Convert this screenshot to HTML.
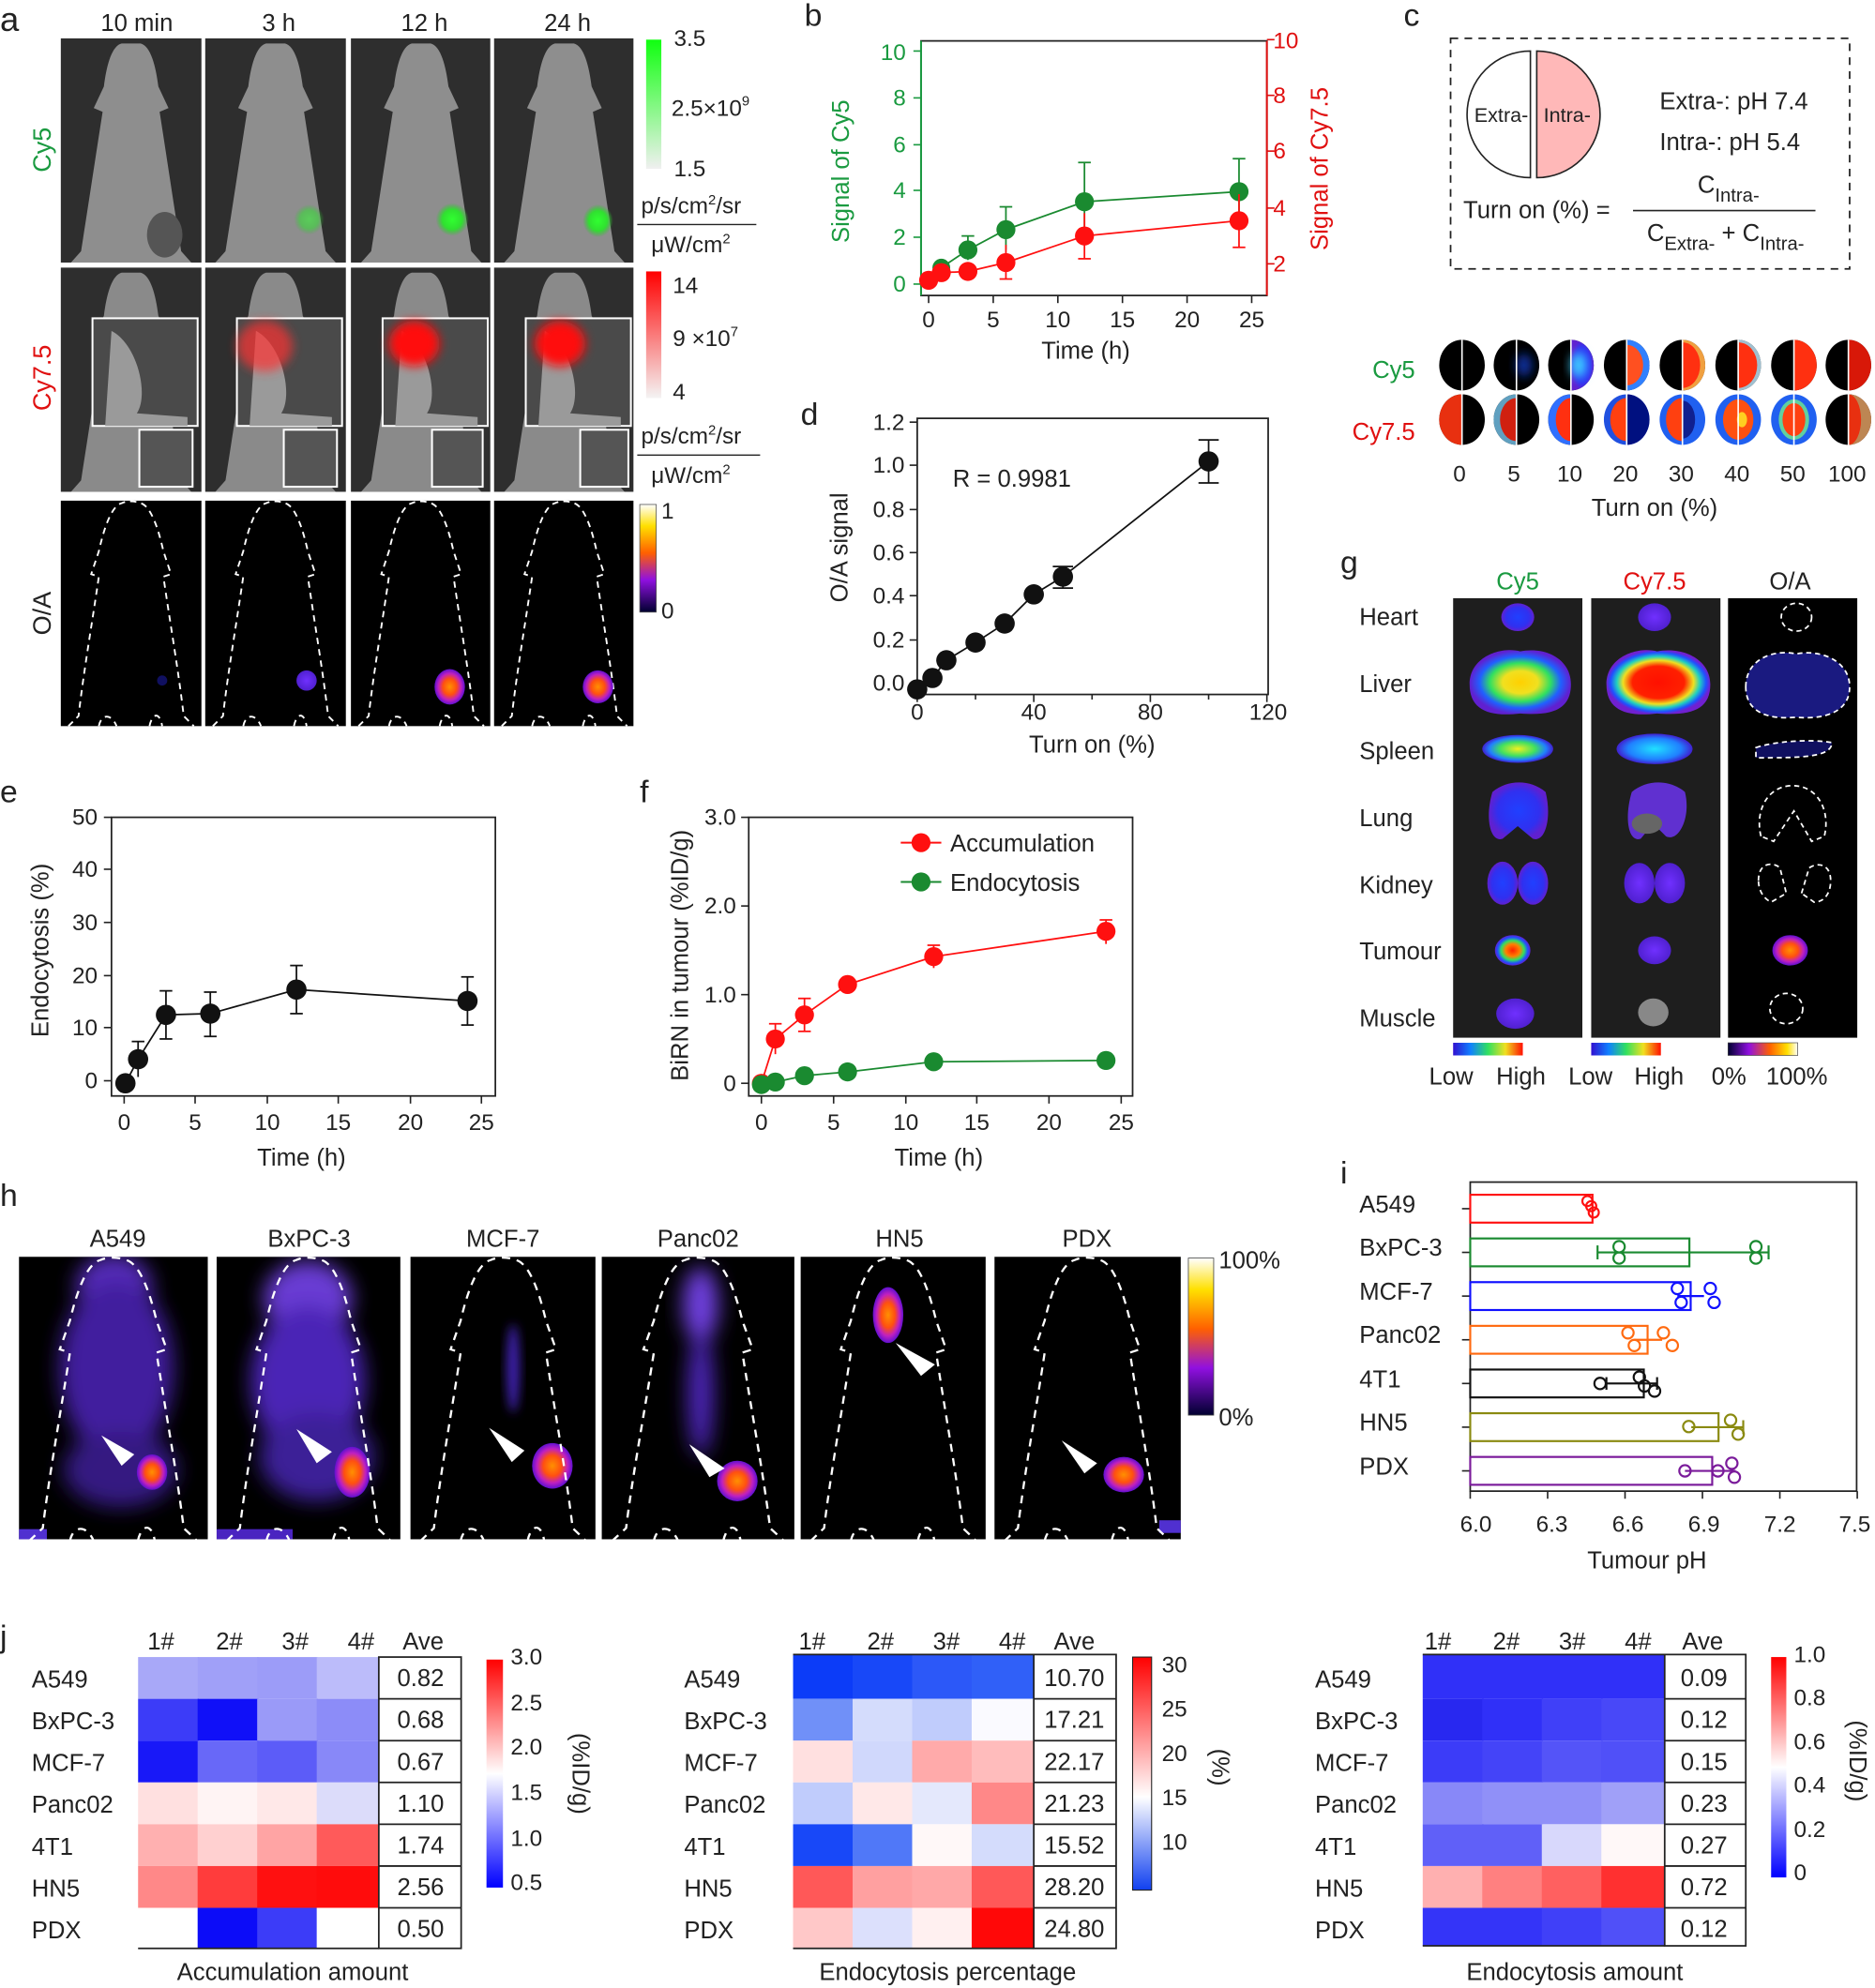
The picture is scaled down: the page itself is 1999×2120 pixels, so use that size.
<!DOCTYPE html>
<html><head><meta charset="utf-8"><style>
html,body{margin:0;padding:0;background:#fff}
svg{display:block}
text{font-family:"Liberation Sans",Arial,sans-serif;fill:#222}
</style></head><body>
<svg width="1999" height="2120" viewBox="0 0 1480 1569" xmlns="http://www.w3.org/2000/svg">
<defs>
<filter id="bl" x="-50%" y="-50%" width="200%" height="200%"><feGaussianBlur stdDeviation="4"/></filter>
<filter id="bl2" x="-50%" y="-50%" width="200%" height="200%"><feGaussianBlur stdDeviation="8"/></filter>
<clipPath id="cA"><rect x="15" y="992" width="149" height="223"/></clipPath>
<clipPath id="cB"><rect x="171" y="992" width="145" height="223"/></clipPath>
<clipPath id="cP"><rect x="475" y="992" width="152" height="223"/></clipPath>
<radialGradient id="jet"><stop offset="0" stop-color="#ffd000"/><stop offset="0.35" stop-color="#f0e020"/><stop offset="0.6" stop-color="#30e060"/><stop offset="0.8" stop-color="#2060ff"/><stop offset="1" stop-color="#6020d0"/></radialGradient>
<radialGradient id="jetR"><stop offset="0" stop-color="#ff1000"/><stop offset="0.5" stop-color="#ff2000"/><stop offset="0.68" stop-color="#f0e020"/><stop offset="0.8" stop-color="#20d0c0"/><stop offset="0.92" stop-color="#2050ff"/><stop offset="1" stop-color="#7020d0"/></radialGradient>
<radialGradient id="blueB"><stop offset="0" stop-color="#2040ff"/><stop offset="0.7" stop-color="#3030f0"/><stop offset="1" stop-color="#6020d0"/></radialGradient>
<radialGradient id="violet"><stop offset="0" stop-color="#7030ff"/><stop offset="1" stop-color="#5020d0"/></radialGradient>
<radialGradient id="spleen"><stop offset="0" stop-color="#f0f020"/><stop offset="0.5" stop-color="#40e060"/><stop offset="0.8" stop-color="#2080ff"/><stop offset="1" stop-color="#4020d0"/></radialGradient>
<radialGradient id="spleen2"><stop offset="0" stop-color="#20e0ff"/><stop offset="0.7" stop-color="#2080ff"/><stop offset="1" stop-color="#4020d0"/></radialGradient>
<radialGradient id="tum"><stop offset="0" stop-color="#ff2000"/><stop offset="0.4" stop-color="#ff8000"/><stop offset="0.65" stop-color="#30e060"/><stop offset="0.85" stop-color="#2050ff"/><stop offset="1" stop-color="#6020d0"/></radialGradient>
<radialGradient id="fire"><stop offset="0" stop-color="#ff9000"/><stop offset="0.45" stop-color="#ff5010"/><stop offset="0.75" stop-color="#c020c0"/><stop offset="1" stop-color="#6010d0"/></radialGradient>
<radialGradient id="grn"><stop offset="0" stop-color="#30ff30"/><stop offset="0.6" stop-color="#30e030"/><stop offset="1" stop-color="#30c030" stop-opacity="0"/></radialGradient>
<linearGradient id="gbar" x1="0" y1="0" x2="0" y2="1"><stop offset="0" stop-color="#10ff10"/><stop offset="1" stop-color="#f0f0f0"/></linearGradient>
<linearGradient id="rbar" x1="0" y1="0" x2="0" y2="1"><stop offset="0" stop-color="#ff0000"/><stop offset="1" stop-color="#f4f4f4"/></linearGradient>
<linearGradient id="fbar" x1="0" y1="0" x2="0" y2="1"><stop offset="0" stop-color="#ffffff"/><stop offset="0.2" stop-color="#ffe000"/><stop offset="0.45" stop-color="#ff6000"/><stop offset="0.7" stop-color="#9010e0"/><stop offset="1" stop-color="#000030"/></linearGradient>
<linearGradient id="fbarH" x1="0" y1="0" x2="1" y2="0"><stop offset="0" stop-color="#000030"/><stop offset="0.3" stop-color="#9010e0"/><stop offset="0.6" stop-color="#ff6000"/><stop offset="0.85" stop-color="#ffe000"/><stop offset="1" stop-color="#ffffff"/></linearGradient>
<linearGradient id="jbarH" x1="0" y1="0" x2="1" y2="0"><stop offset="0" stop-color="#3010d0"/><stop offset="0.25" stop-color="#1080ff"/><stop offset="0.5" stop-color="#30e060"/><stop offset="0.75" stop-color="#f0e020"/><stop offset="1" stop-color="#ff1000"/></linearGradient>
<linearGradient id="bwr" x1="0" y1="0" x2="0" y2="1"><stop offset="0" stop-color="#ff0000"/><stop offset="0.5" stop-color="#ffffff"/><stop offset="1" stop-color="#0000ff"/></linearGradient>
<linearGradient id="bwr2" x1="0" y1="0" x2="0" y2="1"><stop offset="0" stop-color="#ff0000"/><stop offset="0.6" stop-color="#ffffff"/><stop offset="1" stop-color="#1040f0"/></linearGradient>
<path id="mouse" d="M48,4 C40,6 36,22 34,38 L26,55 L33,58 C28,90 22,130 16,168 L8,177 L103,177 L95,168 C89,130 83,90 78,58 L85,55 L77,38 C75,22 71,6 63,4 Z"/>
<path id="mline" d="M6,178 L14,170 C18,135 25,95 30,60 L24,58 L30,40 C34,22 40,4 48,2 C52,0 58,0 63,2 C71,4 77,22 81,40 L87,58 L81,60 C86,95 93,135 97,170 L105,178 M30,178 C32,168 40,168 44,178 M70,178 C72,168 78,166 80,178"/>
</defs>

<!-- ===== Panel a ===== -->
<text x="0" y="24" font-size="27">a</text>
<text x="108" y="24" font-size="19" text-anchor="middle">10 min</text>
<text x="220" y="24" font-size="19" text-anchor="middle">3 h</text>
<text x="335" y="24" font-size="19" text-anchor="middle">12 h</text>
<text x="448" y="24" font-size="19" text-anchor="middle">24 h</text>
<text transform="translate(40,118) rotate(-90)" font-size="20" text-anchor="middle" style="fill:#1a9a40">Cy5</text>
<text transform="translate(40,298) rotate(-90)" font-size="20" text-anchor="middle" style="fill:#e01010">Cy7.5</text>
<text transform="translate(40,484) rotate(-90)" font-size="20" text-anchor="middle">O/A</text>

<g>
<g transform="translate(48,30)"><rect width="111" height="177" fill="#2e2e2e"/><use href="#mouse" fill="#8e8e8e"/><ellipse cx="82" cy="155" rx="14" ry="18" fill="#555"/></g>
<g transform="translate(162,30)"><rect width="111" height="177" fill="#2e2e2e"/><use href="#mouse" fill="#8e8e8e"/><ellipse cx="82" cy="143" rx="12" ry="12" fill="url(#grn)" opacity="0.55"/></g>
<g transform="translate(277,30)"><rect width="110" height="177" fill="#2e2e2e"/><use href="#mouse" fill="#8e8e8e"/><ellipse cx="80" cy="143" rx="13" ry="13" fill="url(#grn)"/></g>
<g transform="translate(390,30)"><rect width="110" height="177" fill="#2e2e2e"/><use href="#mouse" fill="#8e8e8e"/><ellipse cx="82" cy="144" rx="12" ry="13" fill="url(#grn)"/></g>
</g>
<g>
<g transform="translate(48,211)"><rect width="111" height="177" fill="#2e2e2e"/><use href="#mouse" fill="#8a8a8a"/><rect x="25" y="40" width="83" height="85" fill="#4a4a4a" stroke="#fff" stroke-width="1.5"/><path d="M40,50 C60,60 70,100 60,115 L100,118 L100,125 L35,125 Z" fill="#9a9a9a"/><rect x="62" y="128" width="42" height="45" fill="#555" stroke="#fff" stroke-width="1.5"/></g>
<g transform="translate(162,211)"><rect width="111" height="177" fill="#2e2e2e"/><use href="#mouse" fill="#8a8a8a"/><rect x="25" y="40" width="83" height="85" fill="#4a4a4a" stroke="#fff" stroke-width="1.5"/><path d="M40,50 C60,60 70,100 60,115 L100,118 L100,125 L35,125 Z" fill="#9a9a9a"/><ellipse cx="47" cy="62" rx="22" ry="20" fill="#ff3030" opacity="0.7" filter="url(#bl)"/><rect x="62" y="128" width="42" height="45" fill="#555" stroke="#fff" stroke-width="1.5"/></g>
<g transform="translate(277,211)"><rect width="110" height="177" fill="#2e2e2e"/><use href="#mouse" fill="#8a8a8a"/><rect x="25" y="40" width="83" height="85" fill="#4a4a4a" stroke="#fff" stroke-width="1.5"/><path d="M40,50 C60,60 70,100 60,115 L100,118 L100,125 L35,125 Z" fill="#9a9a9a"/><ellipse cx="50" cy="60" rx="20" ry="18" fill="#ff0808" filter="url(#bl)"/><rect x="64" y="128" width="40" height="45" fill="#555" stroke="#fff" stroke-width="1.5"/></g>
<g transform="translate(390,211)"><rect width="110" height="177" fill="#2e2e2e"/><use href="#mouse" fill="#8a8a8a"/><rect x="25" y="40" width="83" height="85" fill="#4a4a4a" stroke="#fff" stroke-width="1.5"/><path d="M40,50 C60,60 70,100 60,115 L100,118 L100,125 L35,125 Z" fill="#9a9a9a"/><ellipse cx="52" cy="60" rx="20" ry="18" fill="#ff0808" filter="url(#bl)"/><rect x="68" y="128" width="38" height="45" fill="#555" stroke="#fff" stroke-width="1.5"/></g>
</g>
<g fill="none" stroke="#fff" stroke-width="1.4" stroke-dasharray="5,4">
<g transform="translate(48,395)"><rect width="111" height="178" fill="#000" stroke="none"/><use href="#mline"/><ellipse cx="80" cy="142" rx="4" ry="4" fill="#101060" stroke="none"/></g>
<g transform="translate(162,395)"><rect width="111" height="178" fill="#000" stroke="none"/><use href="#mline"/><ellipse cx="80" cy="142" rx="8" ry="8" fill="url(#violet)" stroke="none"/></g>
<g transform="translate(277,395)"><rect width="110" height="178" fill="#000" stroke="none"/><use href="#mline"/><ellipse cx="78" cy="147" rx="12" ry="14" fill="url(#fire)" stroke="none"/></g>
<g transform="translate(390,395)"><rect width="110" height="178" fill="#000" stroke="none"/><use href="#mline"/><ellipse cx="82" cy="147" rx="12" ry="13" fill="url(#fire)" stroke="none"/></g>
</g>
<rect x="510" y="31" width="12" height="102" fill="url(#gbar)"/>
<text x="532" y="36" font-size="18">3.5</text>
<text x="530" y="91" font-size="18">2.5×10<tspan font-size="11" dy="-8">9</tspan></text>
<text x="532" y="139" font-size="18">1.5</text>
<text x="506" y="168" font-size="18">p/s/cm<tspan font-size="11" dy="-7">2</tspan><tspan dy="7">/sr</tspan></text>
<line x1="503" y1="177" x2="597" y2="177" stroke="#222" stroke-width="1"/>
<text x="514" y="199" font-size="18">μW/cm<tspan font-size="11" dy="-7">2</tspan></text>
<rect x="510" y="214" width="12" height="100" fill="url(#rbar)"/>
<text x="531" y="231" font-size="18">14</text>
<text x="531" y="273" font-size="18">9 ×10<tspan font-size="11" dy="-8">7</tspan></text>
<text x="531" y="315" font-size="18">4</text>
<text x="506" y="350" font-size="18">p/s/cm<tspan font-size="11" dy="-7">2</tspan><tspan dy="7">/sr</tspan></text>
<line x1="503" y1="359" x2="600" y2="359" stroke="#222" stroke-width="1"/>
<text x="514" y="381" font-size="18">μW/cm<tspan font-size="11" dy="-7">2</tspan></text>
<rect x="505" y="398" width="13" height="85" fill="url(#fbar)" stroke="#555" stroke-width="0.6"/>
<text x="522" y="409" font-size="18">1</text>
<text x="522" y="488" font-size="18">0</text>

<!-- ===== Panel b ===== -->
<text x="635" y="20" font-size="25">b</text>
<rect x="727" y="32" width="273" height="201" fill="none" stroke="#222" stroke-width="1.3"/>
<line x1="727" y1="32" x2="727" y2="233" stroke="#1a9a40" stroke-width="1.5"/>
<line x1="1000" y1="32" x2="1000" y2="233" stroke="#e01010" stroke-width="1.5"/>
<g font-size="18" text-anchor="end">
<text x="715" y="230" style="fill:#1a9a40">0</text><text x="715" y="193" style="fill:#1a9a40">2</text><text x="715" y="156" style="fill:#1a9a40">4</text><text x="715" y="120" style="fill:#1a9a40">6</text><text x="715" y="83" style="fill:#1a9a40">8</text><text x="715" y="47" style="fill:#1a9a40">10</text>
</g>
<g stroke="#1a9a40" stroke-width="1.2"><line x1="721" y1="224" x2="727" y2="224"/><line x1="721" y1="187" x2="727" y2="187"/><line x1="721" y1="150" x2="727" y2="150"/><line x1="721" y1="114" x2="727" y2="114"/><line x1="721" y1="77" x2="727" y2="77"/><line x1="721" y1="40" x2="727" y2="40"/></g>
<g stroke="#e01010" stroke-width="1.2"><line x1="1000" y1="208" x2="1006" y2="208"/><line x1="1000" y1="164" x2="1006" y2="164"/><line x1="1000" y1="119" x2="1006" y2="119"/><line x1="1000" y1="75" x2="1006" y2="75"/><line x1="1000" y1="31" x2="1006" y2="31"/></g>
<g font-size="18"><text x="1005" y="214" style="fill:#e01010">2</text><text x="1005" y="170" style="fill:#e01010">4</text><text x="1005" y="125" style="fill:#e01010">6</text><text x="1005" y="81" style="fill:#e01010">8</text><text x="1005" y="38" style="fill:#e01010">10</text></g>
<g stroke="#222" stroke-width="1.2"><line x1="733" y1="233" x2="733" y2="239"/><line x1="784" y1="233" x2="784" y2="239"/><line x1="835" y1="233" x2="835" y2="239"/><line x1="886" y1="233" x2="886" y2="239"/><line x1="937" y1="233" x2="937" y2="239"/><line x1="988" y1="233" x2="988" y2="239"/></g>
<g font-size="18" text-anchor="middle"><text x="733" y="258">0</text><text x="784" y="258">5</text><text x="835" y="258">10</text><text x="886" y="258">15</text><text x="937" y="258">20</text><text x="988" y="258">25</text></g>
<text x="857" y="283" font-size="19" text-anchor="middle">Time (h)</text>
<text transform="translate(670,135) rotate(-90)" font-size="19" text-anchor="middle" style="fill:#1a9a40">Signal of Cy5</text>
<text transform="translate(1048,133) rotate(-90)" font-size="19" text-anchor="middle" style="fill:#e01010">Signal of Cy7.5</text>
<g stroke="#1a8a30" stroke-width="1.3" fill="none">
<polyline points="735,222 743,211 764,197 794,181 856,159 978,151"/>
<line x1="764" y1="186" x2="764" y2="205"/><line x1="794" y1="163" x2="794" y2="197"/><line x1="856" y1="128" x2="856" y2="185"/><line x1="978" y1="125" x2="978" y2="178"/>
<line x1="851" y1="128" x2="861" y2="128"/><line x1="973" y1="125" x2="983" y2="125"/><line x1="789" y1="163" x2="799" y2="163"/><line x1="759" y1="186" x2="769" y2="186"/>
</g>
<g fill="#1a8a30"><circle cx="743" cy="211" r="7"/><circle cx="764" cy="197" r="7.5"/><circle cx="794" cy="181" r="7.5"/><circle cx="856" cy="159" r="7.5"/><circle cx="978" cy="151" r="7.5"/></g>
<g stroke="#ff1010" stroke-width="1.3" fill="none">
<polyline points="733,221 743,215 764,214 794,207 856,186 978,174"/>
<line x1="794" y1="193" x2="794" y2="220"/><line x1="856" y1="168" x2="856" y2="204"/><line x1="978" y1="153" x2="978" y2="195"/>
<line x1="851" y1="204" x2="861" y2="204"/><line x1="973" y1="195" x2="983" y2="195"/><line x1="789" y1="220" x2="799" y2="220"/>
</g>
<g fill="#ff1010"><circle cx="733" cy="221" r="7.5"/><circle cx="743" cy="215" r="7.5"/><circle cx="764" cy="214" r="7.5"/><circle cx="794" cy="207" r="7.5"/><circle cx="856" cy="186" r="7.5"/><circle cx="978" cy="174" r="7.5"/></g>

<!-- ===== Panel c ===== -->
<text x="1108" y="20" font-size="25">c</text>
<rect x="1145" y="30" width="315" height="182" fill="none" stroke="#222" stroke-width="1.3" stroke-dasharray="6,5"/>
<path d="M1208,40 A50,50 0 0 0 1208,140 Z" fill="#fff" stroke="#222" stroke-width="1.2"/>
<path d="M1213,40 A50,50 0 0 1 1213,140 Z" fill="#ffb8b8" stroke="#222" stroke-width="1.2"/>
<text x="1185" y="96" font-size="16" text-anchor="middle">Extra-</text>
<text x="1237" y="96" font-size="16" text-anchor="middle">Intra-</text>
<text x="1310" y="86" font-size="19">Extra-: pH 7.4</text>
<text x="1310" y="118" font-size="19">Intra-: pH 5.4</text>
<text x="1155" y="172" font-size="19">Turn on (%) =</text>
<line x1="1289" y1="166" x2="1433" y2="166" stroke="#222" stroke-width="1.2"/>
<text x="1340" y="152" font-size="19">C<tspan font-size="15" dy="7">Intra-</tspan></text>
<text x="1300" y="190" font-size="19">C<tspan font-size="15" dy="7">Extra-</tspan><tspan dy="-7"> + C</tspan><tspan font-size="15" dy="7">Intra-</tspan></text>
<text x="1117" y="298" font-size="19" text-anchor="end" style="fill:#1a9a40">Cy5</text>
<text x="1117" y="347" font-size="19" text-anchor="end" style="fill:#e01010">Cy7.5</text>
<g>
<ellipse cx="1154" cy="288" rx="18" ry="20" fill="#000"/>
<ellipse cx="1197" cy="288" rx="18" ry="20" fill="#000"/><ellipse cx="1203" cy="288" rx="6" ry="9" fill="#1030a0" filter="url(#bl)"/>
<ellipse cx="1240" cy="288" rx="18" ry="20" fill="#000"/><path d="M1240,268 A18,20 0 0 1 1240,308 Z" fill="url(#blueB)"/><ellipse cx="1246" cy="288" rx="6" ry="10" fill="#40d0ff" filter="url(#bl)"/>
<ellipse cx="1284" cy="288" rx="18" ry="20" fill="#000"/><path d="M1284,268 A18,20 0 0 1 1284,308 Z" fill="#3080ff"/><path d="M1284,272 A13,16 0 0 1 1284,304 Z" fill="#ff5020"/>
<ellipse cx="1328" cy="288" rx="18" ry="20" fill="#000"/><path d="M1328,268 A18,20 0 0 1 1328,308 Z" fill="#f0a040"/><path d="M1328,270 A14,18 0 0 1 1328,306 Z" fill="#ff3010"/>
<ellipse cx="1372" cy="288" rx="18" ry="20" fill="#000"/><path d="M1372,268 A18,20 0 0 1 1372,308 Z" fill="#a0c0d0"/><path d="M1372,270 A15,18 0 0 1 1372,306 Z" fill="#ff3010"/>
<ellipse cx="1416" cy="288" rx="18" ry="20" fill="#000"/><path d="M1416,268 A18,20 0 0 1 1416,308 Z" fill="#ff3010"/>
<ellipse cx="1459" cy="288" rx="18" ry="20" fill="#000"/><path d="M1459,268 A18,20 0 0 1 1459,308 Z" fill="#d81808"/>
<g stroke="#fff" stroke-width="1.2"><line x1="1154" y1="268" x2="1154" y2="308"/><line x1="1197" y1="268" x2="1197" y2="308"/><line x1="1240" y1="268" x2="1240" y2="308"/><line x1="1284" y1="268" x2="1284" y2="308"/><line x1="1328" y1="268" x2="1328" y2="308"/><line x1="1372" y1="268" x2="1372" y2="308"/><line x1="1416" y1="268" x2="1416" y2="308"/><line x1="1459" y1="268" x2="1459" y2="308"/></g>
</g>
<g>
<ellipse cx="1154" cy="331" rx="18" ry="20" fill="#000"/><path d="M1154,311 A18,20 0 0 0 1154,351 Z" fill="#e83010"/>
<ellipse cx="1197" cy="331" rx="18" ry="20" fill="#000"/><path d="M1197,311 A18,20 0 0 0 1197,351 Z" fill="#60a0c0"/><path d="M1197,314 A13,17 0 0 0 1197,348 Z" fill="#d02010"/>
<ellipse cx="1240" cy="331" rx="18" ry="20" fill="#000"/><path d="M1240,311 A18,20 0 0 0 1240,351 Z" fill="#3070ff"/><path d="M1240,314 A12,17 0 0 0 1240,348 Z" fill="#ff3010"/>
<ellipse cx="1284" cy="331" rx="18" ry="20" fill="#2050e0"/><path d="M1284,314 A13,17 0 0 0 1284,348 Z" fill="#ff4010"/><path d="M1284,311 A18,20 0 0 1 1284,351 Z" fill="#001080"/>
<ellipse cx="1328" cy="331" rx="18" ry="20" fill="#2060f0"/><path d="M1328,314 A13,17 0 0 0 1328,348 Z" fill="#ff4010"/><path d="M1328,316 A10,15 0 0 1 1328,346 Z" fill="#102090"/>
<ellipse cx="1372" cy="331" rx="18" ry="20" fill="#2060f0"/><ellipse cx="1372" cy="331" rx="12" ry="16" fill="#ff5010"/><ellipse cx="1375" cy="331" rx="4" ry="6" fill="#ffd020"/>
<ellipse cx="1416" cy="331" rx="18" ry="20" fill="#2060f0"/><ellipse cx="1416" cy="331" rx="12" ry="16" fill="#60d0a0"/><ellipse cx="1416" cy="331" rx="9" ry="13" fill="#ff4010"/>
<ellipse cx="1459" cy="331" rx="18" ry="20" fill="#000"/><path d="M1459,311 A18,20 0 0 1 1459,351 Z" fill="#e83010"/><path d="M1459,311 A18,20 0 0 1 1459,351 A10,20 0 0 0 1459,311Z" fill="#a0c080" opacity="0.6"/>
<g stroke="#fff" stroke-width="1.2"><line x1="1154" y1="311" x2="1154" y2="351"/><line x1="1197" y1="311" x2="1197" y2="351"/><line x1="1240" y1="311" x2="1240" y2="351"/><line x1="1284" y1="311" x2="1284" y2="351"/><line x1="1328" y1="311" x2="1328" y2="351"/><line x1="1372" y1="311" x2="1372" y2="351"/><line x1="1416" y1="311" x2="1416" y2="351"/><line x1="1459" y1="311" x2="1459" y2="351"/></g>
</g>
<g font-size="18" text-anchor="middle"><text x="1152" y="380">0</text><text x="1195" y="380">5</text><text x="1239" y="380">10</text><text x="1283" y="380">20</text><text x="1327" y="380">30</text><text x="1371" y="380">40</text><text x="1415" y="380">50</text><text x="1458" y="380">100</text></g>
<text x="1306" y="407" font-size="19" text-anchor="middle">Turn on (%)</text>

<!-- ===== Panel d ===== -->
<text x="632" y="335" font-size="25">d</text>
<rect x="724" y="330" width="277" height="218" fill="none" stroke="#222" stroke-width="1.3"/>
<g stroke="#222" stroke-width="1.2"><line x1="718" y1="539" x2="724" y2="539"/><line x1="718" y1="505" x2="724" y2="505"/><line x1="718" y1="470" x2="724" y2="470"/><line x1="718" y1="436" x2="724" y2="436"/><line x1="718" y1="402" x2="724" y2="402"/><line x1="718" y1="367" x2="724" y2="367"/><line x1="718" y1="333" x2="724" y2="333"/>
<line x1="724" y1="548" x2="724" y2="554"/><line x1="770" y1="548" x2="770" y2="552"/><line x1="816" y1="548" x2="816" y2="554"/><line x1="862" y1="548" x2="862" y2="552"/><line x1="908" y1="548" x2="908" y2="554"/><line x1="954" y1="548" x2="954" y2="552"/><line x1="1000" y1="548" x2="1000" y2="554"/></g>
<g font-size="18" text-anchor="end"><text x="714" y="545">0.0</text><text x="714" y="511">0.2</text><text x="714" y="476">0.4</text><text x="714" y="442">0.6</text><text x="714" y="408">0.8</text><text x="714" y="373">1.0</text><text x="714" y="339">1.2</text></g>
<g font-size="18" text-anchor="middle"><text x="724" y="568">0</text><text x="816" y="568">40</text><text x="908" y="568">80</text><text x="1001" y="568">120</text></g>
<text x="862" y="594" font-size="19" text-anchor="middle">Turn on (%)</text>
<text transform="translate(669,432) rotate(-90)" font-size="19" text-anchor="middle">O/A signal</text>
<text x="752" y="384" font-size="19">R = 0.9981</text>
<g stroke="#111" stroke-width="1.3" fill="none"><polyline points="724,544 736,535 747,521 770,507 793,492 816,469 839,455 954,364"/>
<line x1="954" y1="347" x2="954" y2="381"/><line x1="946" y1="347" x2="962" y2="347"/><line x1="946" y1="381" x2="962" y2="381"/>
<line x1="839" y1="447" x2="839" y2="464"/><line x1="831" y1="447" x2="847" y2="447"/><line x1="831" y1="464" x2="847" y2="464"/></g>
<g fill="#111"><circle cx="724" cy="544" r="8"/><circle cx="736" cy="535" r="8"/><circle cx="747" cy="521" r="8"/><circle cx="770" cy="507" r="8"/><circle cx="793" cy="492" r="8"/><circle cx="816" cy="469" r="8"/><circle cx="839" cy="455" r="8"/><circle cx="954" cy="364" r="8"/></g>

<!-- ===== Panel g ===== -->
<text x="1058" y="452" font-size="25">g</text>
<text x="1198" y="465" font-size="19" text-anchor="middle" style="fill:#1a9a40">Cy5</text>
<text x="1306" y="465" font-size="19" text-anchor="middle" style="fill:#e01010">Cy7.5</text>
<text x="1413" y="465" font-size="19" text-anchor="middle">O/A</text>
<g font-size="19"><text x="1073" y="493">Heart</text><text x="1073" y="546">Liver</text><text x="1073" y="599">Spleen</text><text x="1073" y="652">Lung</text><text x="1073" y="705">Kidney</text><text x="1073" y="757">Tumour</text><text x="1073" y="810">Muscle</text></g>
<rect x="1147" y="472" width="102" height="347" fill="#1e1e1e"/>
<rect x="1256" y="472" width="102" height="347" fill="#1e1e1e"/>
<rect x="1364" y="472" width="102" height="347" fill="#000"/>
<ellipse cx="1198" cy="487" rx="13" ry="11" fill="url(#blueB)"/>
<path d="M1160,540 C1160,518 1185,510 1200,514 C1220,510 1240,520 1240,540 C1240,560 1225,565 1200,563 C1175,566 1160,560 1160,540Z" fill="url(#jet)"/>
<ellipse cx="1198" cy="591" rx="28" ry="11" fill="url(#spleen)"/>
<path d="M1178,625 C1190,615 1208,615 1220,625 C1225,645 1220,665 1210,662 L1198,652 L1186,662 C1176,665 1172,645 1178,625Z" fill="url(#blueB)"/>
<ellipse cx="1186" cy="697" rx="12" ry="17" fill="url(#blueB)"/><ellipse cx="1210" cy="697" rx="12" ry="17" fill="url(#blueB)"/>
<ellipse cx="1194" cy="750" rx="14" ry="12" fill="url(#tum)"/>
<ellipse cx="1196" cy="800" rx="15" ry="12" fill="url(#violet)"/>
<ellipse cx="1306" cy="487" rx="13" ry="11" fill="url(#violet)"/>
<path d="M1268,540 C1268,518 1293,510 1308,514 C1328,510 1350,520 1350,540 C1350,560 1335,565 1308,563 C1283,566 1268,560 1268,540Z" fill="url(#jetR)"/>
<ellipse cx="1306" cy="591" rx="30" ry="12" fill="url(#spleen2)"/>
<path d="M1288,625 C1300,615 1318,615 1330,625 C1335,645 1325,665 1315,660 L1305,650 L1295,662 C1285,665 1282,645 1288,625Z" fill="#6030d0"/><ellipse cx="1300" cy="650" rx="12" ry="8" fill="#666"/>
<ellipse cx="1294" cy="697" rx="12" ry="16" fill="url(#violet)"/><ellipse cx="1318" cy="697" rx="12" ry="16" fill="url(#violet)"/>
<ellipse cx="1306" cy="750" rx="13" ry="11" fill="url(#violet)"/>
<ellipse cx="1305" cy="799" rx="12" ry="11" fill="#888"/>
<g fill="none" stroke="#fff" stroke-width="1.3" stroke-dasharray="4,3">
<ellipse cx="1418" cy="487" rx="12" ry="11"/>
<path d="M1378,542 C1378,520 1400,512 1418,516 C1438,512 1460,522 1460,542 C1460,562 1440,568 1418,566 C1395,568 1378,562 1378,542Z" fill="#1a1a80"/>
<path d="M1386,590 C1400,585 1430,583 1446,586 C1446,598 1420,598 1386,598Z" fill="#101060"/>
<path d="M1390,660 C1385,640 1395,620 1415,620 C1435,620 1445,640 1440,660 L1430,664 L1416,640 L1400,664Z"/>
<path d="M1388,695 C1388,680 1400,680 1405,685 L1410,705 L1398,712 C1390,708 1388,700 1388,695Z M1422,705 L1428,685 C1435,680 1445,682 1445,695 C1445,705 1440,712 1432,712Z"/>
<ellipse cx="1410" cy="796" rx="13" ry="12"/>
</g>
<ellipse cx="1413" cy="750" rx="14" ry="12" fill="url(#fire)"/>
<rect x="1147" y="823" width="55" height="10" fill="url(#jbarH)"/>
<rect x="1256" y="823" width="55" height="10" fill="url(#jbarH)"/>
<rect x="1364" y="823" width="55" height="10" fill="url(#fbarH)" stroke="#444" stroke-width="0.5"/>
<g font-size="19"><text x="1128" y="856">Low</text><text x="1181" y="856">High</text><text x="1238" y="856">Low</text><text x="1290" y="856">High</text><text x="1351" y="856">0%</text><text x="1394" y="856">100%</text></g>

<!-- ===== Panel e ===== -->
<text x="0" y="633" font-size="25">e</text>
<rect x="88" y="645" width="303" height="220" fill="none" stroke="#222" stroke-width="1.3"/>
<g stroke="#222" stroke-width="1.2"><line x1="82" y1="853" x2="88" y2="853"/><line x1="82" y1="811" x2="88" y2="811"/><line x1="82" y1="770" x2="88" y2="770"/><line x1="82" y1="728" x2="88" y2="728"/><line x1="82" y1="686" x2="88" y2="686"/><line x1="82" y1="645" x2="88" y2="645"/>
<line x1="98" y1="865" x2="98" y2="871"/><line x1="154" y1="865" x2="154" y2="871"/><line x1="211" y1="865" x2="211" y2="871"/><line x1="267" y1="865" x2="267" y2="871"/><line x1="324" y1="865" x2="324" y2="871"/><line x1="380" y1="865" x2="380" y2="871"/></g>
<g font-size="18" text-anchor="end"><text x="77" y="859">0</text><text x="77" y="817">10</text><text x="77" y="776">20</text><text x="77" y="734">30</text><text x="77" y="692">40</text><text x="77" y="651">50</text></g>
<g font-size="18" text-anchor="middle"><text x="98" y="892">0</text><text x="154" y="892">5</text><text x="211" y="892">10</text><text x="267" y="892">15</text><text x="324" y="892">20</text><text x="380" y="892">25</text></g>
<text x="238" y="920" font-size="19" text-anchor="middle">Time (h)</text>
<text transform="translate(38,750) rotate(-90)" font-size="19" text-anchor="middle">Endocytosis (%)</text>
<g stroke="#111" stroke-width="1.3" fill="none"><polyline points="99,855 109,836 131,801 166,800 234,781 369,790"/>
<line x1="109" y1="822" x2="109" y2="850"/><line x1="131" y1="782" x2="131" y2="820"/><line x1="166" y1="783" x2="166" y2="818"/><line x1="234" y1="762" x2="234" y2="800"/><line x1="369" y1="771" x2="369" y2="809"/>
<line x1="104" y1="822" x2="114" y2="822"/><line x1="126" y1="782" x2="136" y2="782"/><line x1="126" y1="820" x2="136" y2="820"/><line x1="161" y1="783" x2="171" y2="783"/><line x1="161" y1="818" x2="171" y2="818"/><line x1="229" y1="762" x2="239" y2="762"/><line x1="229" y1="800" x2="239" y2="800"/><line x1="364" y1="771" x2="374" y2="771"/><line x1="364" y1="809" x2="374" y2="809"/></g>
<g fill="#111"><circle cx="99" cy="855" r="8"/><circle cx="109" cy="836" r="8"/><circle cx="131" cy="801" r="8"/><circle cx="166" cy="800" r="8"/><circle cx="234" cy="781" r="8"/><circle cx="369" cy="790" r="8"/></g>

<!-- ===== Panel f ===== -->
<text x="505" y="633" font-size="25">f</text>
<rect x="591" y="645" width="303" height="220" fill="none" stroke="#222" stroke-width="1.3"/>
<g stroke="#222" stroke-width="1.2"><line x1="585" y1="855" x2="591" y2="855"/><line x1="585" y1="785" x2="591" y2="785"/><line x1="585" y1="715" x2="591" y2="715"/><line x1="585" y1="645" x2="591" y2="645"/>
<line x1="601" y1="865" x2="601" y2="871"/><line x1="658" y1="865" x2="658" y2="871"/><line x1="715" y1="865" x2="715" y2="871"/><line x1="771" y1="865" x2="771" y2="871"/><line x1="828" y1="865" x2="828" y2="871"/><line x1="885" y1="865" x2="885" y2="871"/></g>
<g font-size="18" text-anchor="end"><text x="581" y="861">0</text><text x="581" y="791">1.0</text><text x="581" y="721">2.0</text><text x="581" y="651">3.0</text></g>
<g font-size="18" text-anchor="middle"><text x="601" y="892">0</text><text x="658" y="892">5</text><text x="715" y="892">10</text><text x="771" y="892">15</text><text x="828" y="892">20</text><text x="885" y="892">25</text></g>
<text x="741" y="920" font-size="19" text-anchor="middle">Time (h)</text>
<text transform="translate(543,754) rotate(-90)" font-size="19" text-anchor="middle">BiRN in tumour (%ID/g)</text>
<g stroke="#ff1010" stroke-width="1.3" fill="none"><polyline points="601,855 612,820 635,801 669,777 737,755 873,735"/>
<line x1="612" y1="808" x2="612" y2="832"/><line x1="635" y1="788" x2="635" y2="814"/><line x1="737" y1="746" x2="737" y2="764"/><line x1="873" y1="726" x2="873" y2="745"/>
<line x1="607" y1="808" x2="617" y2="808"/><line x1="630" y1="788" x2="640" y2="788"/><line x1="630" y1="814" x2="640" y2="814"/><line x1="732" y1="746" x2="742" y2="746"/><line x1="868" y1="726" x2="878" y2="726"/></g>
<g fill="#ff1010"><circle cx="601" cy="855" r="7.5"/><circle cx="612" cy="820" r="7.5"/><circle cx="635" cy="801" r="7.5"/><circle cx="669" cy="777" r="7.5"/><circle cx="737" cy="755" r="7.5"/><circle cx="873" cy="735" r="7.5"/></g>
<g stroke="#1a8a30" stroke-width="1.3" fill="none"><polyline points="601,856 612,854 635,849 669,846 737,838 873,837"/></g>
<g fill="#1a8a30"><circle cx="601" cy="856" r="7.5"/><circle cx="612" cy="854" r="7.5"/><circle cx="635" cy="849" r="7.5"/><circle cx="669" cy="846" r="7.5"/><circle cx="737" cy="838" r="7.5"/><circle cx="873" cy="837" r="7.5"/></g>
<line x1="711" y1="665" x2="743" y2="665" stroke="#ff1010" stroke-width="1.5"/><circle cx="727" cy="665" r="7.5" fill="#ff1010"/>
<line x1="711" y1="696" x2="743" y2="696" stroke="#1a8a30" stroke-width="1.5"/><circle cx="727" cy="696" r="7.5" fill="#1a8a30"/>
<text x="750" y="672" font-size="19">Accumulation</text>
<text x="750" y="703" font-size="19">Endocytosis</text>

<!-- ===== Panel h ===== -->
<text x="0" y="952" font-size="25">h</text>
<g font-size="19" text-anchor="middle"><text x="93" y="984">A549</text><text x="244" y="984">BxPC-3</text><text x="397" y="984">MCF-7</text><text x="551" y="984">Panc02</text><text x="710" y="984">HN5</text><text x="858" y="984">PDX</text></g>
<g>
<rect x="15" y="992" width="149" height="223" fill="#000"/>
<rect x="171" y="992" width="145" height="223" fill="#000"/>
<rect x="324" y="992" width="146" height="223" fill="#000"/>
<rect x="475" y="992" width="152" height="223" fill="#000"/>
<rect x="632" y="992" width="146" height="223" fill="#000"/>
<rect x="785" y="992" width="147" height="223" fill="#000"/>
<g clip-path="url(#cA)"><g filter="url(#bl2)" opacity="0.9"><ellipse cx="90" cy="1015" rx="30" ry="25" fill="#6030d0"/><ellipse cx="92" cy="1080" rx="45" ry="70" fill="#4a24b0"/><ellipse cx="95" cy="1160" rx="45" ry="30" fill="#3a1c90"/></g></g>
<ellipse cx="120" cy="1162" rx="12" ry="14" fill="url(#fire)"/>
<rect x="15" y="1207" width="22" height="8" fill="#5030d0"/>
<g clip-path="url(#cB)"><g filter="url(#bl2)" opacity="0.95"><ellipse cx="243" cy="1025" rx="35" ry="30" fill="#7040e0"/><ellipse cx="243" cy="1090" rx="45" ry="60" fill="#5028c0"/><ellipse cx="250" cy="1150" rx="45" ry="35" fill="#4020a0"/></g></g>
<ellipse cx="278" cy="1162" rx="14" ry="20" fill="url(#fire)"/>
<rect x="171" y="1207" width="60" height="8" fill="#4a24c0"/>
<ellipse cx="405" cy="1080" rx="5" ry="35" fill="#4020b0" filter="url(#bl)"/>
<ellipse cx="436" cy="1157" rx="16" ry="18" fill="url(#fire)"/>
<g clip-path="url(#cP)"><g filter="url(#bl2)"><ellipse cx="553" cy="1030" rx="14" ry="30" fill="#7040e0"/><ellipse cx="553" cy="1100" rx="10" ry="50" fill="#5028c0"/></g></g>
<ellipse cx="582" cy="1169" rx="16" ry="16" fill="url(#fire)"/>
<ellipse cx="701" cy="1038" rx="12" ry="22" fill="url(#fire)"/>
<ellipse cx="887" cy="1164" rx="16" ry="14" fill="url(#fire)"/>
<rect x="915" y="1200" width="17" height="10" fill="#5030d0"/>
</g>
<g fill="none" stroke="#fff" stroke-width="1.3" stroke-dasharray="5,4">
<g transform="translate(15,992) scale(1.34,1.26)"><use href="#mline"/></g>
<g transform="translate(171,992) scale(1.31,1.26)"><use href="#mline"/></g>
<g transform="translate(324,992) scale(1.32,1.26)"><use href="#mline"/></g>
<g transform="translate(475,992) scale(1.37,1.26)"><use href="#mline"/></g>
<g transform="translate(632,992) scale(1.32,1.26)"><use href="#mline"/></g>
<g transform="translate(785,992) scale(1.32,1.26)"><use href="#mline"/></g>
</g>
<g fill="#fff">
<polygon points="80,1133 106,1148 96,1157"/>
<polygon points="234,1128 262,1146 250,1155"/>
<polygon points="386,1127 414,1145 404,1154"/>
<polygon points="544,1140 572,1159 560,1166"/>
<polygon points="707,1060 738,1077 727,1086"/>
<polygon points="838,1137 866,1155 856,1163"/>
</g>
<rect x="938" y="993" width="20" height="124" fill="url(#fbar)" stroke="#444" stroke-width="0.6"/>
<text x="962" y="1001" font-size="19">100%</text>
<text x="962" y="1125" font-size="19">0%</text>

<!-- ===== Panel i ===== -->
<text x="1058" y="934" font-size="25">i</text>
<rect x="1160.5" y="933" width="305" height="244" fill="none" stroke="#222" stroke-width="1.3"/>
<g stroke="#222" stroke-width="1.2"><line x1="1154" y1="954" x2="1160" y2="954"/><line x1="1154" y1="988.5" x2="1160" y2="988.5"/><line x1="1154" y1="1023" x2="1160" y2="1023"/><line x1="1154" y1="1057.5" x2="1160" y2="1057.5"/><line x1="1154" y1="1092" x2="1160" y2="1092"/><line x1="1154" y1="1126.5" x2="1160" y2="1126.5"/><line x1="1154" y1="1161" x2="1160" y2="1161"/>
<line x1="1160.5" y1="1177" x2="1160.5" y2="1183"/><line x1="1221.6" y1="1177" x2="1221.6" y2="1183"/><line x1="1282.7" y1="1177" x2="1282.7" y2="1183"/><line x1="1343.8" y1="1177" x2="1343.8" y2="1183"/><line x1="1404.9" y1="1177" x2="1404.9" y2="1183"/><line x1="1466" y1="1177" x2="1466" y2="1183"/></g>
<g font-size="19"><text x="1073" y="957">A549</text><text x="1073" y="991">BxPC-3</text><text x="1073" y="1026">MCF-7</text><text x="1073" y="1060">Panc02</text><text x="1073" y="1095">4T1</text><text x="1073" y="1129">HN5</text><text x="1073" y="1164">PDX</text></g>
<g font-size="18" text-anchor="middle"><text x="1165" y="1209">6.0</text><text x="1225" y="1209">6.3</text><text x="1285" y="1209">6.6</text><text x="1345" y="1209">6.9</text><text x="1405" y="1209">7.2</text><text x="1464" y="1209">7.5</text></g>
<text x="1300" y="1238" font-size="19" text-anchor="middle">Tumour pH</text>
<g fill="none" stroke-width="1.6">
<g stroke="#ff1010"><rect x="1160.5" y="943" width="96.5" height="22"/><circle cx="1253" cy="948" r="4"/><circle cx="1256" cy="952" r="4"/><circle cx="1258" cy="957" r="4"/></g>
<g stroke="#1a8a30"><rect x="1160.5" y="977.5" width="173" height="22"/><line x1="1261" y1="988.5" x2="1396" y2="988.5"/><line x1="1261" y1="983" x2="1261" y2="994"/><line x1="1396" y1="983" x2="1396" y2="994"/><circle cx="1278" cy="984" r="4.5"/><circle cx="1278" cy="993" r="4.5"/><circle cx="1386" cy="984" r="4.5"/><circle cx="1386" cy="993" r="4.5"/></g>
<g stroke="#1010ff"><rect x="1160.5" y="1012" width="174" height="22"/><line x1="1324" y1="1023" x2="1345" y2="1023"/><circle cx="1324" cy="1017" r="4.5"/><circle cx="1327" cy="1028" r="4.5"/><circle cx="1350" cy="1017" r="4.5"/><circle cx="1353" cy="1028" r="4.5"/></g>
<g stroke="#ff6a10"><rect x="1160.5" y="1046.5" width="140" height="22"/><line x1="1290" y1="1057.5" x2="1312" y2="1057.5"/><circle cx="1285" cy="1052" r="4.5"/><circle cx="1290" cy="1062" r="4.5"/><circle cx="1313" cy="1052" r="4.5"/><circle cx="1320" cy="1062" r="4.5"/></g>
<g stroke="#111"><rect x="1160.5" y="1081" width="137" height="22"/><line x1="1268" y1="1092" x2="1308" y2="1092"/><line x1="1268" y1="1087" x2="1268" y2="1097"/><line x1="1308" y1="1087" x2="1308" y2="1097"/><circle cx="1263" cy="1092" r="4.5"/><circle cx="1294" cy="1087" r="4.5"/><circle cx="1298" cy="1094" r="4.5"/><circle cx="1306" cy="1098" r="4.5"/></g>
<g stroke="#8a8a10"><rect x="1160.5" y="1115.5" width="196" height="22"/><line x1="1335" y1="1126.5" x2="1376" y2="1126.5"/><line x1="1376" y1="1121" x2="1376" y2="1132"/><circle cx="1333" cy="1126" r="4.5"/><circle cx="1366" cy="1121" r="4.5"/><circle cx="1372" cy="1132" r="4.5"/></g>
<g stroke="#7a1a9a"><rect x="1160.5" y="1150" width="191" height="22"/><line x1="1330" y1="1161" x2="1370" y2="1161"/><circle cx="1330" cy="1161" r="4.5"/><circle cx="1356" cy="1161" r="4.5"/><circle cx="1367" cy="1155" r="4.5"/><circle cx="1369" cy="1166" r="4.5"/></g>
</g>

<!-- ===== Panel j ===== -->
<text x="0" y="1300" font-size="25">j</text>
<g font-size="19" text-anchor="middle"><text x="127" y="1302">1#</text><text x="181" y="1302">2#</text><text x="233" y="1302">3#</text><text x="285" y="1302">4#</text><text x="334" y="1302">Ave</text></g>
<g font-size="19"><text x="25" y="1332">A549</text><text x="25" y="1365">BxPC-3</text><text x="25" y="1398">MCF-7</text><text x="25" y="1431">Panc02</text><text x="25" y="1464">4T1</text><text x="25" y="1497">HN5</text><text x="25" y="1530">PDX</text></g>
<g>
<rect x="109" y="1308" width="48" height="33" fill="#a8a8f8"/><rect x="156" y="1308" width="48" height="33" fill="#a0a0f8"/><rect x="203" y="1308" width="48" height="33" fill="#9c9cf8"/><rect x="250" y="1308" width="49" height="33" fill="#bcbcfa"/>
<rect x="109" y="1341" width="48" height="33" fill="#3c3cf8"/><rect x="156" y="1341" width="48" height="33" fill="#1010f8"/><rect x="203" y="1341" width="48" height="33" fill="#9a9af8"/><rect x="250" y="1341" width="49" height="33" fill="#8c8cf8"/>
<rect x="109" y="1374" width="48" height="33" fill="#1818f8"/><rect x="156" y="1374" width="48" height="33" fill="#6868f8"/><rect x="203" y="1374" width="48" height="33" fill="#5c5cf8"/><rect x="250" y="1374" width="49" height="33" fill="#8888f8"/>
<rect x="109" y="1407" width="48" height="33" fill="#ffe0e0"/><rect x="156" y="1407" width="48" height="33" fill="#fff4f4"/><rect x="203" y="1407" width="48" height="33" fill="#ffe8e8"/><rect x="250" y="1407" width="49" height="33" fill="#dcdcfa"/>
<rect x="109" y="1440" width="48" height="33" fill="#ffb0b0"/><rect x="156" y="1440" width="48" height="33" fill="#ffd0d0"/><rect x="203" y="1440" width="48" height="33" fill="#ffa4a4"/><rect x="250" y="1440" width="49" height="33" fill="#ff5a5a"/>
<rect x="109" y="1473" width="48" height="33" fill="#ff8888"/><rect x="156" y="1473" width="48" height="33" fill="#ff3c3c"/><rect x="203" y="1473" width="48" height="33" fill="#ff1010"/><rect x="250" y="1473" width="49" height="33" fill="#ff0c0c"/>
<rect x="109" y="1506" width="48" height="32" fill="#ffffff"/><rect x="156" y="1506" width="48" height="32" fill="#0c0cf8"/><rect x="203" y="1506" width="48" height="32" fill="#3c3cf8"/><rect x="250" y="1506" width="49" height="32" fill="#ffffff"/>
<line x1="109" y1="1538" x2="299" y2="1538" stroke="#222" stroke-width="1.3"/>
</g>
<g fill="none" stroke="#222" stroke-width="1.3"><rect x="299" y="1308" width="65" height="230"/><line x1="299" y1="1341" x2="364" y2="1341"/><line x1="299" y1="1374" x2="364" y2="1374"/><line x1="299" y1="1407" x2="364" y2="1407"/><line x1="299" y1="1440" x2="364" y2="1440"/><line x1="299" y1="1473" x2="364" y2="1473"/><line x1="299" y1="1506" x2="364" y2="1506"/></g>
<g font-size="19" text-anchor="middle"><text x="332" y="1331">0.82</text><text x="332" y="1364">0.68</text><text x="332" y="1397">0.67</text><text x="332" y="1430">1.10</text><text x="332" y="1463">1.74</text><text x="332" y="1496">2.56</text><text x="332" y="1529">0.50</text></g>
<rect x="384" y="1310" width="13" height="180" fill="url(#bwr)"/>
<g font-size="18"><text x="403" y="1314">3.0</text><text x="403" y="1350">2.5</text><text x="403" y="1385">2.0</text><text x="403" y="1421">1.5</text><text x="403" y="1457">1.0</text><text x="403" y="1492">0.5</text></g>
<text transform="translate(452,1400) rotate(90)" font-size="19" text-anchor="middle">(%ID/g)</text>
<text x="231" y="1563" font-size="19" text-anchor="middle">Accumulation amount</text>

<g font-size="19" text-anchor="middle"><text x="641" y="1302">1#</text><text x="695" y="1302">2#</text><text x="747" y="1302">3#</text><text x="799" y="1302">4#</text><text x="848" y="1302">Ave</text></g>
<g font-size="19"><text x="540" y="1332">A549</text><text x="540" y="1365">BxPC-3</text><text x="540" y="1398">MCF-7</text><text x="540" y="1431">Panc02</text><text x="540" y="1464">4T1</text><text x="540" y="1497">HN5</text><text x="540" y="1530">PDX</text></g>
<g>
<rect x="626" y="1306" width="48" height="35" fill="#0c3cf8"/><rect x="673" y="1306" width="48" height="35" fill="#1848f8"/><rect x="720" y="1306" width="48" height="35" fill="#2c58f8"/><rect x="767" y="1306" width="49" height="35" fill="#3060f8"/>
<rect x="626" y="1341" width="48" height="33" fill="#7090f8"/><rect x="673" y="1341" width="48" height="33" fill="#d4dcfc"/><rect x="720" y="1341" width="48" height="33" fill="#c0ccfc"/><rect x="767" y="1341" width="49" height="33" fill="#fafaff"/>
<rect x="626" y="1374" width="48" height="33" fill="#ffe0e0"/><rect x="673" y="1374" width="48" height="33" fill="#d0d8fc"/><rect x="720" y="1374" width="48" height="33" fill="#ffaaaa"/><rect x="767" y="1374" width="49" height="33" fill="#ffbcbc"/>
<rect x="626" y="1407" width="48" height="33" fill="#c0ccfc"/><rect x="673" y="1407" width="48" height="33" fill="#ffe8e8"/><rect x="720" y="1407" width="48" height="33" fill="#e4e8fc"/><rect x="767" y="1407" width="49" height="33" fill="#ff8888"/>
<rect x="626" y="1440" width="48" height="33" fill="#1848f8"/><rect x="673" y="1440" width="48" height="33" fill="#5078f8"/><rect x="720" y="1440" width="48" height="33" fill="#fff8f8"/><rect x="767" y="1440" width="49" height="33" fill="#d4dcfc"/>
<rect x="626" y="1473" width="48" height="33" fill="#ff5858"/><rect x="673" y="1473" width="48" height="33" fill="#ffa0a0"/><rect x="720" y="1473" width="48" height="33" fill="#ffa8a8"/><rect x="767" y="1473" width="49" height="33" fill="#ff5858"/>
<rect x="626" y="1506" width="48" height="32" fill="#ffc8c8"/><rect x="673" y="1506" width="48" height="32" fill="#dce0fc"/><rect x="720" y="1506" width="48" height="32" fill="#fff0f0"/><rect x="767" y="1506" width="49" height="32" fill="#ff0808"/>
<line x1="626" y1="1538" x2="816" y2="1538" stroke="#222" stroke-width="1.3"/><line x1="626" y1="1306" x2="816" y2="1306" stroke="#222" stroke-width="1.3"/>
</g>
<g fill="none" stroke="#222" stroke-width="1.3"><rect x="816" y="1306" width="65" height="232"/><line x1="816" y1="1341" x2="881" y2="1341"/><line x1="816" y1="1374" x2="881" y2="1374"/><line x1="816" y1="1407" x2="881" y2="1407"/><line x1="816" y1="1440" x2="881" y2="1440"/><line x1="816" y1="1473" x2="881" y2="1473"/><line x1="816" y1="1506" x2="881" y2="1506"/></g>
<g font-size="19" text-anchor="middle"><text x="848" y="1331">10.70</text><text x="848" y="1364">17.21</text><text x="848" y="1397">22.17</text><text x="848" y="1430">21.23</text><text x="848" y="1463">15.52</text><text x="848" y="1496">28.20</text><text x="848" y="1529">24.80</text></g>
<rect x="894" y="1308" width="15" height="184" fill="url(#bwr2)" stroke="#222" stroke-width="0.8"/>
<g font-size="18"><text x="917" y="1320">30</text><text x="917" y="1355">25</text><text x="917" y="1390">20</text><text x="917" y="1425">15</text><text x="917" y="1460">10</text></g>
<text transform="translate(957,1395) rotate(90)" font-size="19" text-anchor="middle">(%)</text>
<text x="748" y="1563" font-size="19" text-anchor="middle">Endocytosis percentage</text>

<g font-size="19" text-anchor="middle"><text x="1135" y="1302">1#</text><text x="1189" y="1302">2#</text><text x="1241" y="1302">3#</text><text x="1293" y="1302">4#</text><text x="1344" y="1302">Ave</text></g>
<g font-size="19"><text x="1038" y="1332">A549</text><text x="1038" y="1365">BxPC-3</text><text x="1038" y="1398">MCF-7</text><text x="1038" y="1431">Panc02</text><text x="1038" y="1464">4T1</text><text x="1038" y="1497">HN5</text><text x="1038" y="1530">PDX</text></g>
<g>
<rect x="1123" y="1306" width="48" height="35" fill="#3030f8"/><rect x="1170" y="1306" width="48" height="35" fill="#3030f8"/><rect x="1217" y="1306" width="48" height="35" fill="#3030f8"/><rect x="1264" y="1306" width="50" height="35" fill="#3030f8"/>
<rect x="1123" y="1341" width="48" height="33" fill="#2828f0"/><rect x="1170" y="1341" width="48" height="33" fill="#3030f8"/><rect x="1217" y="1341" width="48" height="33" fill="#4040f8"/><rect x="1264" y="1341" width="50" height="33" fill="#4848f8"/>
<rect x="1123" y="1374" width="48" height="33" fill="#3c3cf8"/><rect x="1170" y="1374" width="48" height="33" fill="#4444f8"/><rect x="1217" y="1374" width="48" height="33" fill="#5454f8"/><rect x="1264" y="1374" width="50" height="33" fill="#5050f8"/>
<rect x="1123" y="1407" width="48" height="33" fill="#8888f8"/><rect x="1170" y="1407" width="48" height="33" fill="#9090f8"/><rect x="1217" y="1407" width="48" height="33" fill="#9090f8"/><rect x="1264" y="1407" width="50" height="33" fill="#a0a0f8"/>
<rect x="1123" y="1440" width="48" height="33" fill="#6060f8"/><rect x="1170" y="1440" width="48" height="33" fill="#6060f8"/><rect x="1217" y="1440" width="48" height="33" fill="#d8d8fc"/><rect x="1264" y="1440" width="50" height="33" fill="#fff8f8"/>
<rect x="1123" y="1473" width="48" height="33" fill="#ffb0b0"/><rect x="1170" y="1473" width="48" height="33" fill="#ff8080"/><rect x="1217" y="1473" width="48" height="33" fill="#ff6060"/><rect x="1264" y="1473" width="50" height="33" fill="#ff3030"/>
<rect x="1123" y="1506" width="48" height="30" fill="#3434f8"/><rect x="1170" y="1506" width="48" height="30" fill="#3434f8"/><rect x="1217" y="1506" width="48" height="30" fill="#4040f8"/><rect x="1264" y="1506" width="50" height="30" fill="#5050f8"/>
<line x1="1123" y1="1536" x2="1314" y2="1536" stroke="#222" stroke-width="1.3"/><line x1="1123" y1="1306" x2="1314" y2="1306" stroke="#222" stroke-width="1.3"/>
</g>
<g fill="none" stroke="#222" stroke-width="1.3"><rect x="1314" y="1306" width="64" height="230"/><line x1="1314" y1="1341" x2="1378" y2="1341"/><line x1="1314" y1="1374" x2="1378" y2="1374"/><line x1="1314" y1="1407" x2="1378" y2="1407"/><line x1="1314" y1="1440" x2="1378" y2="1440"/><line x1="1314" y1="1473" x2="1378" y2="1473"/><line x1="1314" y1="1506" x2="1378" y2="1506"/></g>
<g font-size="19" text-anchor="middle"><text x="1345" y="1331">0.09</text><text x="1345" y="1364">0.12</text><text x="1345" y="1397">0.15</text><text x="1345" y="1430">0.23</text><text x="1345" y="1463">0.27</text><text x="1345" y="1496">0.72</text><text x="1345" y="1529">0.12</text></g>
<rect x="1398" y="1308" width="12" height="174" fill="url(#bwr)"/>
<g font-size="18"><text x="1416" y="1312">1.0</text><text x="1416" y="1346">0.8</text><text x="1416" y="1381">0.6</text><text x="1416" y="1415">0.4</text><text x="1416" y="1450">0.2</text><text x="1416" y="1484">0</text></g>
<text transform="translate(1460,1390) rotate(90)" font-size="19" text-anchor="middle">(%ID/g)</text>
<text x="1243" y="1563" font-size="19" text-anchor="middle">Endocytosis amount</text>
</svg>
</body></html>
